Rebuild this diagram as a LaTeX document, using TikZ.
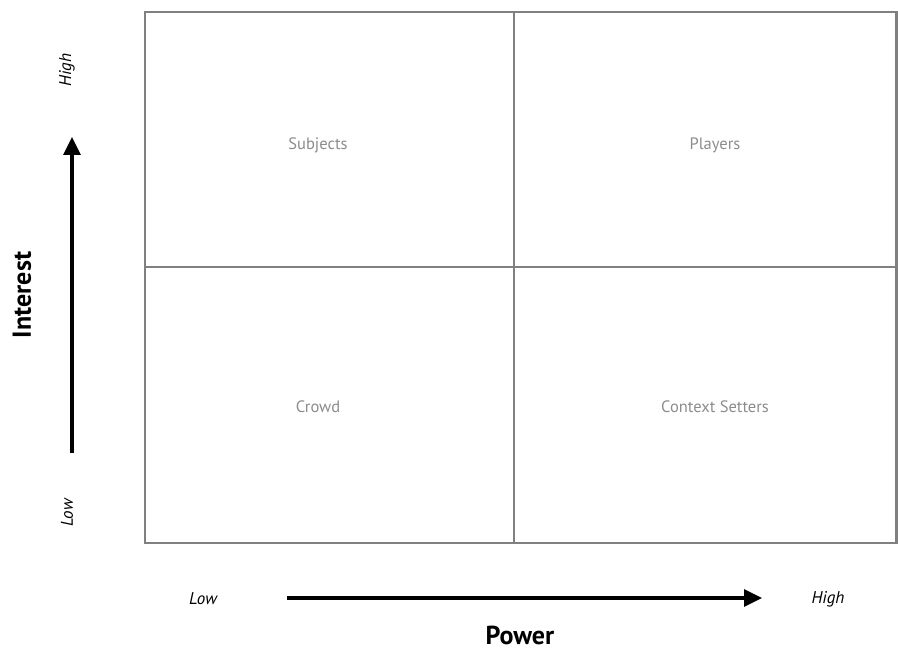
\documentclass[tikz,border=0pt]{standalone}
\usepackage{fontspec}
\setmainfont{PT Sans}
\usepackage{tikz}
\usetikzlibrary{arrows.meta}

\begin{document}
\begin{tikzpicture}[x=1pt,y=1pt,
  cell/.style={text=black!45, font=\fontsize{16.5}{19}\selectfont},
  tick/.style={font=\itshape\fontsize{17}{20}\selectfont},
  axis/.style={inner sep=1pt, font=\bfseries\fontsize{26}{30}\selectfont},
  grid/.style={draw=black!50, line width=2.6pt},
  dir/.style={line width=3.2pt, -{Triangle[length=18pt,width=17pt]}}]
\useasboundingbox (0,0) rectangle (898,651);

% quadrants
\draw[grid] (145,108) rectangle (896.5,639) (514,639) -- (514,108)
      (145,384) -- (896.5,384);
\node[cell] (subjects) at (318,506) {Subjects};
\node[cell] (players) at (715,506) {Players};
\node[cell] (crowd) at (318,244) {Crowd};
\node[cell] (setters) at (715,244) {Context Setters};

% interest axis
\coordinate (ilow) at (72,198);
\coordinate (ihigh) at (72,514);
\draw[dir] (ilow) -- (ihigh);
\node[tick, rotate=90] (ihightxt) at (67,581) {High};
\node[tick, rotate=90] (ilowtxt) at (67,138) {Low};
\node[axis, rotate=90] (interest) at (22,356) {Interest};

% power axis
\coordinate (plow) at (287,53);
\coordinate (phigh) at (762,53);
\draw[dir] (plow) -- (phigh);
\node[tick] (plowtxt) at (203,52) {Low};
\node[tick] (phightxt) at (828,52) {High};
\node[axis] (power) at (520,16) {Power};
\end{tikzpicture}
\end{document}
